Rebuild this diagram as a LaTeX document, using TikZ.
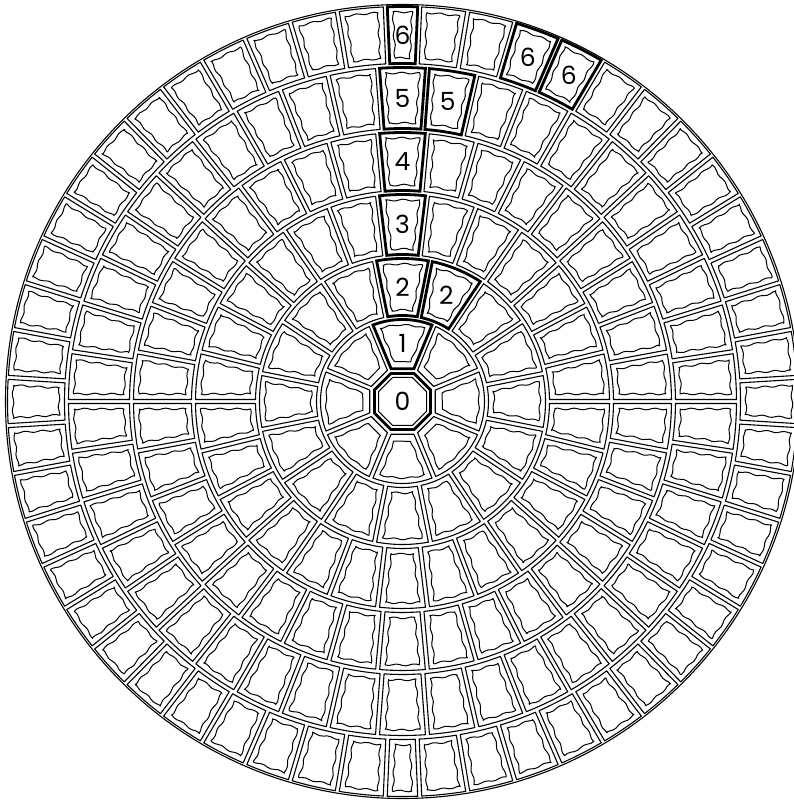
\documentclass[tikz,border=0pt]{standalone}
\usepackage{fontspec}
\newfontfamily\numfont{Poppins}
\newcommand\gapA{2}
\newcommand\gapB{7.5}
\newcommand\wA{0.85}
\newcommand\wF{21}
\newcommand\RA{30}
\newcommand\RB{84}
\tikzset{
  outl/.style={line width=1.1pt, line join=round},
  hil/.style={line width=2.8pt, line join=miter},
  wavl/.style={line width=1pt, line join=round},
  num/.style={font=\numfont\fontsize{25}{25}\selectfont, inner sep=0pt},
}
% sector geometry
\newcommand\secgeo[5]{%
  \pgfmathsetmacro\sRi{#1+#5}%
  \pgfmathsetmacro\sRo{#2-#5}%
  \pgfmathsetmacro\sAi{#3+asin(#5/\sRi)}%
  \pgfmathsetmacro\sBi{#4-asin(#5/\sRi)}%
  \pgfmathsetmacro\sAo{#3+asin(#5/\sRo)}%
  \pgfmathsetmacro\sBo{#4-asin(#5/\sRo)}%
}
\newcommand\secdraw[1]{%
  \draw[#1] (\sAi:\sRi) -- (\sAo:\sRo)
    arc[start angle=\sAo, end angle=\sBo, radius=\sRo]
    -- (\sBi:\sRi)
    arc[start angle=\sBi, end angle=\sAi, radius=\sRi] -- cycle;%
}
% wavy inner outline of a sector: r1 r2 a1 a2 phase
\newcommand\wavsec[5]{%
  \pgfmathsetmacro\wRi{#1+\gapB}%
  \pgfmathsetmacro\wRo{#2-\gapB}%
  \pgfmathsetmacro\wAo{#3+asin(\gapB/\wRo)}%
  \pgfmathsetmacro\wBo{#4-asin(\gapB/\wRo)}%
  \pgfmathsetmacro\wAi{#3+asin(\gapB/\wRi)}%
  \pgfmathsetmacro\wBi{#4-asin(\gapB/\wRi)}%
  \pgfmathtruncatemacro\nR{max(4,(\wRo-\wRi)/3)}%
  \pgfmathtruncatemacro\nO{max(4,(\wBo-\wAo)*(\wRo/57.3)/3)}%
  \pgfmathtruncatemacro\nI{max(4,(\wBi-\wAi)*(\wRi/57.3)/3)}%
  \pgfmathsetmacro\wPh{#5}%
  \draw[wavl]
    plot[smooth, variable=\vR, domain=\wRi:\wRo, samples=\nR]
      ({#3+asin((\gapB+\wA*sin(\wF*(\vR-\wRi)+\wPh))/\vR)}:\vR)
    -- plot[smooth, variable=\vU, domain=\wAo:\wBo, samples=\nO]
      (\vU:{\wRo+\wA*sin((\vU-\wAo)*(\wRo/57.3)*\wF+\wPh+70)})
    -- plot[smooth, variable=\vR, domain=\wRo:\wRi, samples=\nR]
      ({#4-asin((\gapB+\wA*sin(\wF*(\vR-\wRi)+\wPh+140))/\vR)}:\vR)
    -- plot[smooth, variable=\vU, domain=\wBi:\wAi, samples=\nI]
      (\vU:{\wRi+\wA*sin((\vU-\wAi)*(\wRi/57.3)*\wF+\wPh+210)})
    -- cycle;%
}
\newcommand\cellsec[5]{%
  \secgeo{#1}{#2}{#3}{#4}{\gapA}\secdraw{outl}%
  \wavsec{#1}{#2}{#3}{#4}{#5}%
}
\newcommand\hisec[4]{%
  \secgeo{#1}{#2}{#3}{#4}{\gapA}\secdraw{hil}%
}
% ring one (inner side is an octagon side)
\newcommand\onegeo[3]{%
  \pgfmathsetmacro\sRi{(\RA+#3)/cos(22.5)}%
  \pgfmathsetmacro\sRo{\RB-#3}%
  \pgfmathsetmacro\sAi{#1+asin(#3/\sRi)}%
  \pgfmathsetmacro\sBi{#2-asin(#3/\sRi)}%
  \pgfmathsetmacro\sAo{#1+asin(#3/\sRo)}%
  \pgfmathsetmacro\sBo{#2-asin(#3/\sRo)}%
}
\newcommand\onedraw[1]{%
  \draw[#1] (\sAi:\sRi) -- (\sAo:\sRo)
    arc[start angle=\sAo, end angle=\sBo, radius=\sRo]
    -- (\sBi:\sRi) -- cycle;%
}
\newcommand\wavone[3]{% a1 a2 phase
  \onegeo{#1}{#2}{\gapB}%
  \pgfmathtruncatemacro\nR{max(4,(\sRo-\sRi)/3)}%
  \pgfmathtruncatemacro\nO{max(4,(\sBo-\sAo)*(\sRo/57.3)/3)}%
  \pgfmathsetmacro\wPh{#3}%
  \draw[wavl]
    plot[smooth, variable=\vR, domain=\sRi:\sRo, samples=\nR]
      ({#1+asin((\gapB+0.7*sin(\wF*(\vR-\sRi)+\wPh))/\vR)}:\vR)
    -- plot[smooth, variable=\vU, domain=\sAo:\sBo, samples=\nO]
      (\vU:{\sRo+0.7*sin((\vU-\sAo)*(\sRo/57.3)*\wF+\wPh+70)})
    -- plot[smooth, variable=\vR, domain=\sRo:\sRi, samples=\nR]
      ({#2-asin((\gapB+0.7*sin(\wF*(\vR-\sRi)+\wPh+140))/\vR)}:\vR)
    -- cycle;%
}
\begin{document}
\begin{tikzpicture}[x=1pt,y=1pt]
\useasboundingbox (-402.5,-398.5) rectangle (391.5,401.5);
\clip (-402.5,-398.5) rectangle (391.5,401.5);
\coordinate (c) at (0,0);
% outer circle
\draw[outl] (c) circle[radius=397];
% octagon (cell 0)
\pgfmathsetmacro\oRa{(\RA-\gapA)/cos(22.5)}
\pgfmathsetmacro\oRb{(\RA-\gapB+1.5)/cos(22.5)}
\draw[hil] (22.5:\oRa) \foreach \t in {67.5,112.5,...,337.5} { -- (\t:\oRa) } -- cycle;
\draw[wavl] (22.5:\oRb) \foreach \t in {67.5,112.5,...,337.5} { -- (\t:\oRb) } -- cycle;
% ring 1: 8 cells
\foreach \k in {0,...,7} {
  \pgfmathsetmacro\aa{67.5+45*\k}
  \pgfmathsetmacro\ab{\aa+45}
  \onegeo{\aa}{\ab}{\gapA}\onedraw{outl}
  \wavone{\aa}{\ab}{\k*71}
}
% ring 2: 16 cells
\foreach \k in {0,...,15} {
  \pgfmathsetmacro\aa{78.75+22.5*\k}
  \pgfmathsetmacro\ab{\aa+22.5}
  \cellsec{84}{145}{\aa}{\ab}{\k*83+20}
}
% ring 3: 26 cells
\foreach \k in {0,...,25} {
  \pgfmathsetmacro\aa{90-180/26+360/26*\k}
  \pgfmathsetmacro\ab{\aa+360/26}
  \cellsec{145}{209}{\aa}{\ab}{\k*97+40}
}
% ring 4: 34 cells
\foreach \k in {0,...,33} {
  \pgfmathsetmacro\aa{90-180/34+360/34*\k}
  \pgfmathsetmacro\ab{\aa+360/34}
  \cellsec{209}{271}{\aa}{\ab}{\k*61+10}
}
% ring 5: 42 cells
\foreach \k in {0,...,41} {
  \pgfmathsetmacro\aa{90-180/42+360/42*\k}
  \pgfmathsetmacro\ab{\aa+360/42}
  \cellsec{271}{336}{\aa}{\ab}{\k*113+5}
}
% ring 6: 50 cells of 7 degrees and two narrow cells
\foreach \k in {-12,...,12} {
  \pgfmathsetmacro\aa{7*\k-3.5}
  \pgfmathsetmacro\ab{\aa+7}
  \cellsec{336}{397}{\aa}{\ab}{\k*79+100}
  \pgfmathsetmacro\aa{180+7*\k-3.5}
  \pgfmathsetmacro\ab{\aa+7}
  \cellsec{336}{397}{\aa}{\ab}{\k*53+200}
}
\cellsec{336}{397}{87.5}{92.5}{30}
\cellsec{336}{397}{267.5}{272.5}{60}
% highlighted path
\onegeo{67.5}{112.5}{\gapA}\onedraw{hil}
\hisec{84}{145}{78.75}{101.25}
\hisec{84}{145}{56.25}{78.75}
\hisec{145}{209}{83.077}{96.923}
\hisec{209}{271}{84.706}{95.294}
\hisec{271}{336}{85.714}{94.286}
\hisec{271}{336}{77.143}{85.714}
\hisec{336}{397}{87.5}{92.5}
\hisec{336}{397}{66.5}{73.5}
\hisec{336}{397}{59.5}{66.5}
% labels
\node[num] (n0) at (c) {0};
\node[num] (n1) at (90:58) {1};
\node[num] (n2a) at (90:114.5) {2};
\node[num] (n2b) at (67.5:114.5) {2};
\node[num] (n3) at (90:177) {3};
\node[num] (n4) at (90:240) {4};
\node[num] (n5a) at (90:303.5) {5};
\node[num] (n5b) at (81.43:303.5) {5};
\node[num] (n6a) at (90:366.5) {6};
\node[num] (n6b) at (70:366.5) {6};
\node[num] (n6c) at (63:366.5) {6};
\end{tikzpicture}
\end{document}
